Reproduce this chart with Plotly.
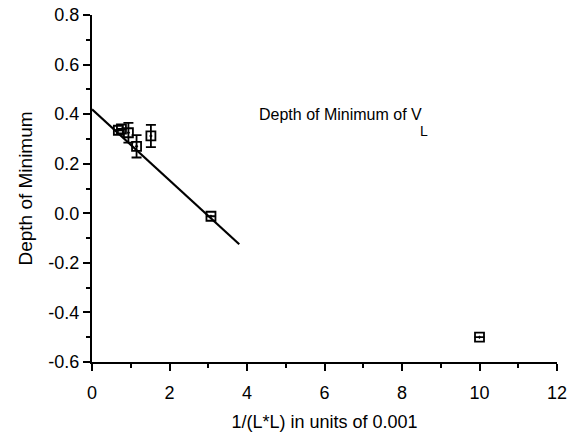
import plotly.graph_objects as go

# data
x_pts = [0.68, 0.76, 0.94, 1.15, 1.52, 3.07, 10.0]
y_pts = [0.335, 0.34, 0.325, 0.27, 0.312, -0.012, -0.5]
y_err = [0.0, 0.0, 0.04, 0.045, 0.045, 0.0, 0.0]
fit_x = [0.0, 3.8]
fit_y = [0.42, -0.125]
x_ticks = [0, 2, 4, 6, 8, 10, 12]
y_ticks = [-0.6, -0.4, -0.2, 0.0, 0.2, 0.4, 0.6, 0.8]
y_ticktext = ["-0.6", "-0.4", "-0.2", "0.0", "0.2", "0.4", "0.6", "0.8"]

FONT = "Liberation Sans, Arial, Helvetica"

fig = go.Figure()
fig.add_trace(go.Scatter(x=fit_x, y=fit_y, mode="lines",
                         line=dict(color="black", width=2.2), showlegend=False))
fig.add_trace(go.Scatter(x=x_pts, y=y_pts, mode="markers",
                         marker=dict(symbol="square-open-dot", size=9, color="black",
                                     line=dict(width=1.8, color="black")),
                         error_y=dict(type="data", array=y_err, visible=True,
                                      color="black", thickness=1.8, width=5),
                         showlegend=False))

fig.add_annotation(xref="x", yref="y", x=4.26, y=0.397, xanchor="left", yanchor="middle",
                   text="Depth of Minimum of V", showarrow=False,
                   font=dict(family=FONT, size=16, color="#000000"))
fig.add_annotation(xref="x", yref="y", x=8.42, y=0.33, xanchor="left", yanchor="middle",
                   text="L", showarrow=False,
                   font=dict(family=FONT, size=14, color="#000000"))

axis_common = dict(showline=True, linecolor="black", linewidth=2, showgrid=False,
                   zeroline=False, ticks="outside", ticklen=7, tickwidth=1.5,
                   tickcolor="black", mirror=False, automargin=False,
                   ticklabeloverflow="allow",
                   tickfont=dict(family=FONT, size=18, color="black"))

fig.update_xaxes(range=[0, 12], tickvals=x_ticks, ticklabelstandoff=6,
                 minor=dict(dtick=1, ticks="outside", ticklen=4, tickcolor="black", tickwidth=1.5),
                 title=dict(text="1/(L*L) in units of 0.001",
                            font=dict(family=FONT, size=18, color="black"),
                            standoff=14),
                 **axis_common)
fig.update_yaxes(range=[-0.6, 0.8], tickvals=y_ticks, ticktext=y_ticktext,
                 minor=dict(dtick=0.1, ticks="outside", ticklen=4, tickcolor="black", tickwidth=1.5),
                 title=dict(text="Depth of Minimum",
                            font=dict(family=FONT, size=19, color="black"),
                            standoff=11),
                 **axis_common)

fig.update_layout(width=567, height=435, margin=dict(l=92, r=10, t=15, b=73),
                  plot_bgcolor="white", paper_bgcolor="white")

fig.write_html("out.html")
